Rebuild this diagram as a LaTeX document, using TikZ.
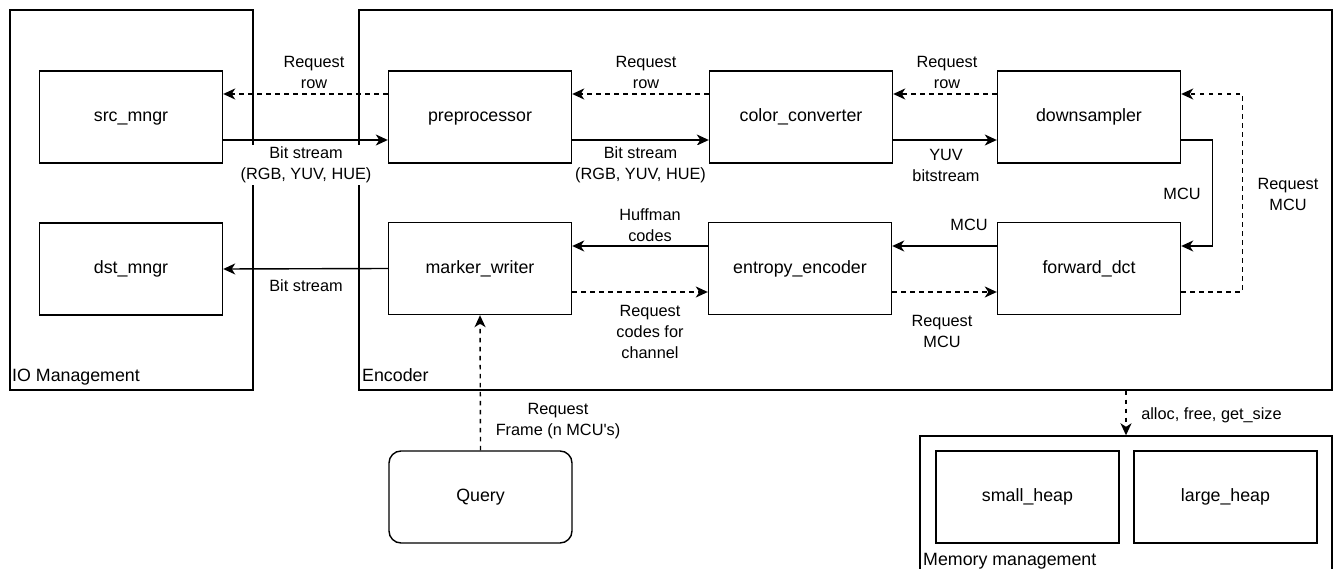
\documentclass[tikz,border=0pt]{standalone}
\usepackage{fontspec}
\setmainfont{Liberation Sans}[Ligatures=TeXOff]
\usetikzlibrary{arrows.meta,calc}
\begin{document}
\begin{tikzpicture}[x=1pt,y=-1pt,
  box/.style={draw, line width=1.4pt, minimum width=183pt, minimum height=92pt, inner sep=0pt, text height=12.7pt, text depth=3pt, font=\fontsize{17.8}{21}\selectfont},
  grp/.style={draw, line width=1.4pt, inner sep=0pt},
  glab/.style={anchor=base west, inner sep=0pt, font=\fontsize{17.8}{21}\selectfont},
  elab/.style={fill=white, align=center, inner sep=1.5pt, font=\fontsize{16.3}{21}\selectfont},
  arr/.style={line width=1.4pt, -{Stealth[length=12pt,width=11pt,inset=3.5pt]}},
  darr/.style={arr, dash pattern=on 4.5pt off 4.5pt},
]
\useasboundingbox (0,0) rectangle (1338,569);
\clip (0,0) rectangle (1338,569);
% groups
\node[grp, minimum width=243pt, minimum height=380pt] (io) at (131.5,200) {};
\node[grp, minimum width=973pt, minimum height=380pt] (enc) at (845.5,200) {};
\node[grp, minimum width=412pt, minimum height=144pt] (mem) at (1126,508) {};
\node[glab] (iolab) at (12,381) {IO Management};
\node[glab] (enclab) at (362,381) {Encoder};
\node[glab] (memlab) at (923,565) {Memory management};
% boxes
\node[box] (src) at (131,117) {src\_mngr};
\node[box] (dst) at (131,269) {dst\_mngr};
\node[box] (pre) at (480,117) {preprocessor};
\node[box] (mw) at (480,268.5) {marker\_writer};
\node[box] (cc) at (801,117) {color\_converter};
\node[box] (ee) at (800,268.5) {entropy\_encoder};
\node[box] (ds) at (1089,117) {downsampler};
\node[box] (fd) at (1089,268.5) {forward\_dct};
\node[box, rounded corners=12pt] (q) at (480.5,497) {Query};
\node[box] (sh) at (1027.5,497) {small\_heap};
\node[box] (lh) at (1225.5,497) {large\_heap};
% connectors
\draw[darr] ([yshift=23pt]pre.west) -- ([yshift=23pt]src.east);
\draw[arr] ([yshift=-23pt]src.east) -- ([yshift=-23pt]pre.west);
\draw[darr] ([yshift=23pt]cc.west) -- ([yshift=23pt]pre.east);
\draw[arr] ([yshift=-23pt]pre.east) -- ([yshift=-23pt]cc.west);
\draw[darr] ([yshift=23pt]ds.west) -- ([yshift=23pt]cc.east);
\draw[arr] ([yshift=-23pt]cc.east) -- ([yshift=-23pt]ds.west);
\draw[arr] ([yshift=-23pt]ds.east) -- ++(31,0) |- ([yshift=22.5pt]fd.east);
\draw[darr] ([yshift=-23.5pt]fd.east) -- ++(61,0) |- ([yshift=23pt]ds.east);
\draw[arr] ([yshift=22.5pt]fd.west) -- ([yshift=22.5pt]ee.east);
\draw[darr] ([yshift=-23.5pt]ee.east) -- ([yshift=-23.5pt]fd.west);
\draw[arr] ([yshift=22.5pt]ee.west) -- ([yshift=22.5pt]mw.east);
\draw[darr] ([yshift=-23.5pt]mw.east) -- ([yshift=-23.5pt]ee.west);
\draw[arr] (mw.west) -- (dst.east);
\draw[darr] (q.north) -- (mw.south);
\coordinate (mx) at (1126,0);
\draw[darr] (enc.south -| mx) -- (mem.north -| mx);
% labels
\node[elab] (l1) at (314,72.5) {Request\\row};
\node[elab] (l2) at (306,165) {Bit stream\\(RGB, YUV, HUE)};
\node[elab] (l3) at (646,72.5) {Request\\row};
\node[elab] (l4) at (640.5,165) {Bit stream\\(RGB, YUV, HUE)};
\node[elab] (l5) at (947,72.5) {Request\\row};
\node[elab] (l6) at (946,165) {YUV\\bitstream};
\node[elab] (l7) at (1182,194) {MCU};
\node[elab] (l8) at (1288,194.5) {Request\\MCU};
\node[elab] (l9) at (969,225) {MCU};
\node[elab] (l10) at (942,331.5) {Request\\MCU};
\node[elab] (l11) at (650,225.5) {Huffman\\codes};
\node[elab] (l12) at (650,332) {Request\\codes for\\channel};
\node[elab] (l13) at (306,286) {Bit stream};
\node[elab] (l14) at (558,421) {Request\\Frame (n MCU's)};
\node[elab] (l15) at (1211.5,415) {alloc, free, get\_size};
\end{tikzpicture}
\end{document}
